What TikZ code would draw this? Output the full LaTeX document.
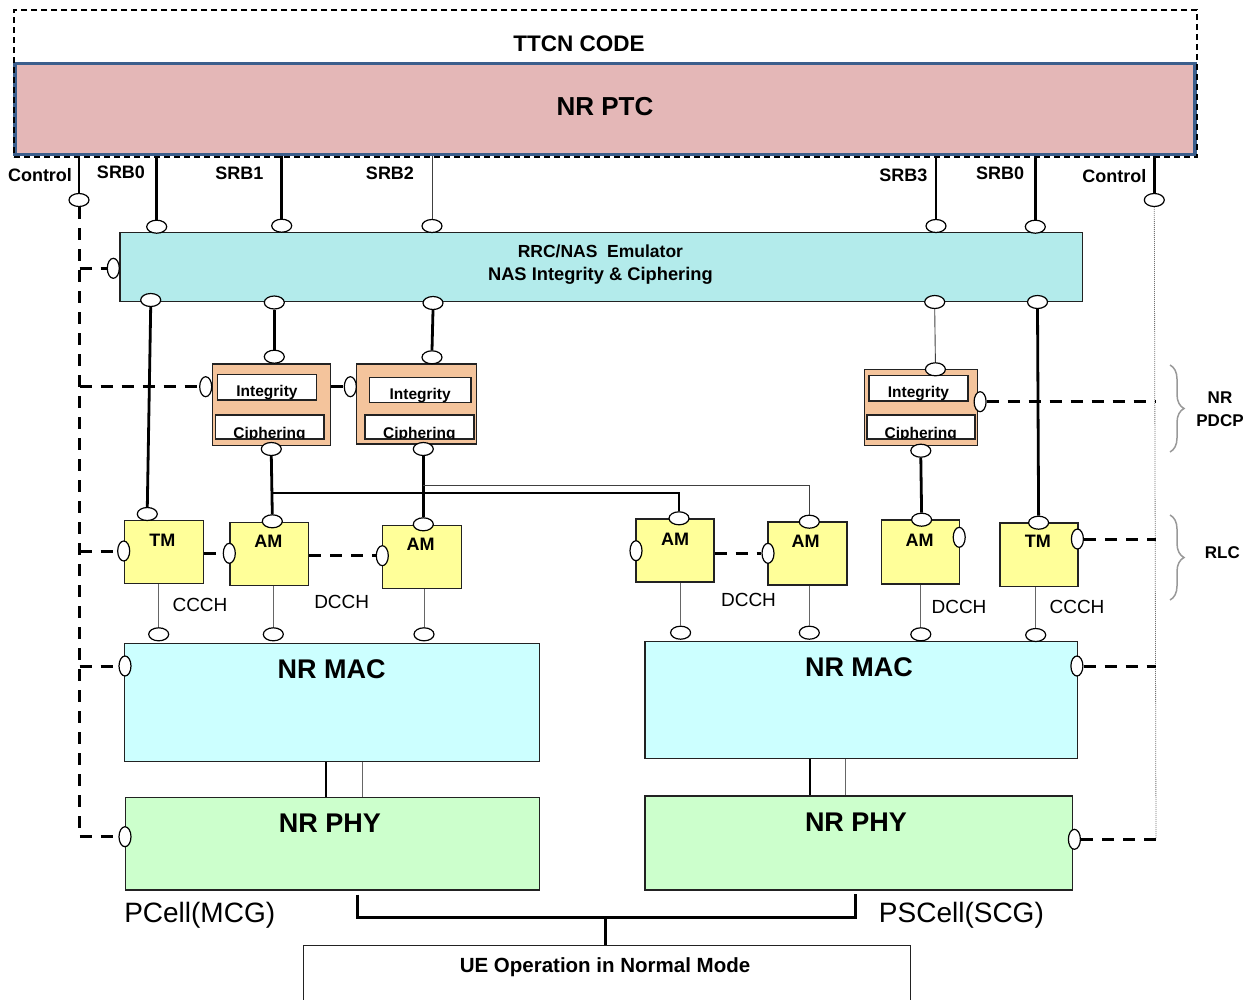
\documentclass[tikz,border=0pt]{standalone}
\usepackage{fontspec}
\setmainfont{Liberation Sans}
\usetikzlibrary{shapes.geometric,decorations.pathreplacing}
\definecolor{ptcfill}{HTML}{E4B7B7}
\definecolor{ptcline}{HTML}{3B5E8C}
\definecolor{emufill}{HTML}{B3EBEB}
\definecolor{pdcpfill}{HTML}{F4C49C}
\definecolor{rlcfill}{HTML}{FFFF99}
\definecolor{macfill}{HTML}{CCFFFF}
\definecolor{phyfill}{HTML}{CCFFCC}
\definecolor{bordercol}{HTML}{222222}
\newcommand{\myfs}[1]{\fontsize{#1}{#1}\selectfont}
\tikzset{
  box/.style={draw=bordercol, line width=1.3pt, rectangle, inner sep=0pt},
  inbox/.style={draw=bordercol, fill=white, line width=1.2pt, rectangle, inner sep=0pt},
  port/.style={ellipse, draw=black, fill=white, line width=1.2pt, minimum width=20pt, minimum height=13pt, inner sep=0pt},
  vport/.style={port, minimum width=12pt, minimum height=20pt},
  thickline/.style={line width=2.8pt},
  thinline/.style={line width=0.9pt, draw=black!75},
  chline/.style={line width=1pt, draw=black!60},
  ctrl/.style={line width=3pt, dash pattern=on 12pt off 9pt},
  dotline/.style={line width=0.8pt, draw=black!55, dash pattern=on 1pt off 1pt},
  lbl/.style={inner sep=0pt, font=\bfseries\myfs{18}},
  chlbl/.style={inner sep=0pt, font=\myfs{19}},
  rlclbl/.style={inner sep=0pt, font=\bfseries\myfs{18}},
  seclbl/.style={inner sep=0pt, font=\bfseries\myfs{17}},
  bigl/.style={inner sep=0pt, font=\bfseries\myfs{27}},
  celllbl/.style={inner sep=0pt, font=\myfs{28}},
  smalll/.style={inner sep=0pt, font=\bfseries\myfs{15.5}},
  bracestyle/.style={decorate, decoration={brace, amplitude=14pt, aspect=0.5}, draw=black!40, line width=1.5pt},
}
\begin{document}
\begin{tikzpicture}[x=1pt,y=-1pt]
\useasboundingbox (0,0) rectangle (1255,999);

% ---------- top: PTC and TTCN ----------
\node[box, draw=ptcline, line width=3.5pt, fill=ptcfill, minimum width=1180pt, minimum height=91pt] (ptc) at (605,109) {};
\node[inner sep=0pt, font=\bfseries\myfs{26}] (ptclbl) at (605,107) {NR PTC};
\node[draw=black, line width=1.2pt, dash pattern=on 6pt off 4pt, minimum width=1183pt, minimum height=147pt, inner sep=0pt, rectangle] (ttcn) at (605.5,83.5) {};
\node[inner sep=0pt, font=\bfseries\myfs{22.5}] (ttcnlbl) at (579,44) {TTCN CODE};

\node[lbl] (lc1) at (40,175.5) {Control};
\node[lbl] (ls0) at (121,172.3) {SRB0};
\node[lbl] (ls1) at (239.3,173.3) {SRB1};
\node[lbl] (ls2) at (390,173.3) {SRB2};
\node[lbl] (ls3) at (903.3,175) {SRB3};
\node[lbl] (ls0b) at (1000,173.3) {SRB0};
\node[lbl] (lc2) at (1114.3,175.7) {Control};

% ---------- emulator ----------
\node[box, fill=emufill, minimum width=962.7pt, minimum height=69.4pt] (emu) at (601.35,267) {};
\node[inner sep=0pt, font=\bfseries\myfs{17.5}] (emut1) at (600.4,251.7) {RRC/NAS\ \ Emulator};
\node[inner sep=0pt, font=\bfseries\myfs{18.3}] (emut2) at (600.4,276) {NAS Integrity \& Ciphering};

% ---------- PDCP ----------
\node[box, fill=pdcpfill, minimum width=118pt, minimum height=81.3pt] (pdcp1) at (271.7,404.65) {};
\node[inbox, minimum width=99.4pt, minimum height=25.7pt] (int1) at (267,387.15) {};
\node[inbox, minimum width=107.6pt, minimum height=23.7pt] (cip1) at (269.5,427.15) {};
\node[box, fill=pdcpfill, minimum width=120pt, minimum height=80pt] (pdcp2) at (416.7,404) {};
\node[inbox, minimum width=101.7pt, minimum height=25.4pt] (int2) at (420.15,390) {};
\node[inbox, minimum width=108.7pt, minimum height=23.7pt] (cip2) at (419.35,427.15) {};
\node[box, fill=pdcpfill, minimum width=113.4pt, minimum height=76pt] (pdcp3) at (921.1,407.3) {};
\node[inbox, minimum width=99pt, minimum height=25.3pt] (int3) at (918.5,388.35) {};
\node[inbox, minimum width=107.5pt, minimum height=23.7pt] (cip3) at (920.75,427.15) {};

\node[smalll, anchor=base, yshift=4pt] (int1t) at (int1.south) {Integrity};
\node[smalll, anchor=base, yshift=4pt] (int2t) at (int2.south) {Integrity};
\node[smalll, anchor=base, yshift=4pt] (int3t) at (int3.south) {Integrity};
\begin{scope}
\clip (cip1.south west) rectangle (cip1.north east);
\node[smalll, anchor=base, yshift=1.5pt] (cip1t) at (cip1.south) {Ciphering};
\end{scope}
\begin{scope}
\clip (cip2.south west) rectangle (cip2.north east);
\node[smalll, anchor=base, yshift=1.5pt] (cip2t) at (cip2.south) {Ciphering};
\end{scope}
\begin{scope}
\clip (cip3.south west) rectangle (cip3.north east);
\node[smalll, anchor=base, yshift=1.5pt] (cip3t) at (cip3.south) {Ciphering};
\end{scope}
\draw[draw=bordercol, line width=1.2pt] (cip1.south west) rectangle (cip1.north east);
\draw[draw=bordercol, line width=1.2pt] (cip2.south west) rectangle (cip2.north east);
\draw[draw=bordercol, line width=1.2pt] (cip3.south west) rectangle (cip3.north east);

% ---------- RLC ----------
\node[box, fill=rlcfill, minimum width=79pt, minimum height=63pt] (tm1) at (163.8,552.2) {};
\node[box, fill=rlcfill, minimum width=78.7pt, minimum height=63pt] (am1) at (269.35,553.8) {};
\node[box, fill=rlcfill, minimum width=79pt, minimum height=63pt] (am2) at (421.8,557.2) {};
\node[box, fill=rlcfill, minimum width=78pt, minimum height=63pt] (am3) at (675,550.5) {};
\node[box, fill=rlcfill, minimum width=79pt, minimum height=63pt] (am4) at (807.5,553.5) {};
\node[box, fill=rlcfill, minimum width=78.2pt, minimum height=64pt] (am5) at (920.7,552) {};
\node[box, fill=rlcfill, minimum width=78pt, minimum height=63.7pt] (tm2) at (1039,554.85) {};
\node[rlclbl] (tm1t0) at (162.3,540) {TM};
\node[rlclbl] (am1t0) at (268.3,541) {AM};
\node[rlclbl] (am2t0) at (420.7,544) {AM};
\node[rlclbl] (am3t0) at (675,539.3) {AM};
\node[rlclbl] (am4t0) at (805.5,541.7) {AM};
\node[rlclbl] (am5t0) at (919.5,540) {AM};
\node[rlclbl] (tm2t0) at (1037.8,541.7) {TM};

% ---------- MAC / PHY ----------
\node[box, fill=macfill, minimum width=415.2pt, minimum height=118.4pt] (macL) at (331.9,702.5) {};
\node[box, fill=macfill, minimum width=432.6pt, minimum height=116.6pt] (macR) at (861.4,700) {};
\node[box, fill=phyfill, minimum width=413.7pt, minimum height=92.3pt] (phyL) at (332.65,843.85) {};
\node[box, fill=phyfill, minimum width=427.8pt, minimum height=94pt] (phyR) at (858.9,843) {};
\node[bigl] (macLt) at (331.7,669.3) {NR MAC};
\node[bigl] (macRt) at (859,666.7) {NR MAC};
\node[bigl] (phyLt) at (329.8,822.7) {NR PHY};
\node[bigl] (phyRt) at (856,821.7) {NR PHY};
\node[celllbl] (pcell) at (199.7,915) {PCell(MCG)};
\node[celllbl] (pscell) at (961.4,915) {PSCell(SCG)};

% ---------- UE ----------
\node[box, minimum width=607pt, minimum height=70pt, anchor=north] (ue) at (607.3,945) {};
\node[inner sep=0pt, font=\bfseries\myfs{20.5}] (uet) at (605,967) {UE Operation in Normal Mode};

% ---------- channel labels ----------
\node[chlbl] (lccch1) at (200,605) {CCCH};
\node[chlbl] (ldcch1) at (341.7,601.7) {DCCH};
\node[chlbl] (ldcch2) at (748.5,600) {DCCH};
\node[chlbl] (ldcch3) at (959,606.7) {DCCH};
\node[chlbl] (lccch2) at (1077,606.7) {CCCH};

% ---------- side braces ----------
\draw[bracestyle] (1170,365) -- (1170,452);
\draw[bracestyle] (1170,515) -- (1170,600);
\node[seclbl] (lnr) at (1220,398) {NR};
\node[seclbl] (lpdcp) at (1220,421) {PDCP};
\node[seclbl] (lrlc) at (1222.4,553) {RLC};

% ---------- ports ----------
\node[port] (ctlL) at (79,200) {};
\node[port] (ctlR) at (1154.3,200) {};
\node[port] (s0) at (156.7,226.7) {};
\node[port] (s1) at (281.7,225.7) {};
\node[port] (s2) at (432,226) {};
\node[port] (s3) at (936,226) {};
\node[port] (s0b) at (1035.3,226.7) {};
\node[vport] (emuL) at (113.3,268.3) {};
\node[port] (e1) at (150.7,300) {};
\node[port] (e2) at (274.3,302.5) {};
\node[port] (e3) at (433,303) {};
\node[port] (e4) at (934.7,302) {};
\node[port] (e5) at (1037.5,302) {};
\node[port] (p1t) at (274.3,356.7) {};
\node[port] (p2t) at (432,357.3) {};
\node[port] (p3t) at (935.4,369.3) {};
\node[port] (p1b) at (271.3,449) {};
\node[port] (p2b) at (423.3,449) {};
\node[port] (p3b) at (920.8,450.7) {};
\node[vport] (p1l) at (205.7,386.7) {};
\node[vport] (p2l) at (350.3,386.7) {};
\node[vport] (p3r) at (980.1,401.7) {};
\node[port] (tm1t) at (147.3,514) {};
\node[port] (am1t) at (272.3,521.3) {};
\node[port] (am2t) at (423.3,524.3) {};
\node[port] (am3t) at (679,518.3) {};
\node[port] (am4t) at (809.3,521.7) {};
\node[port] (am5t) at (921.6,519.7) {};
\node[port] (tm2t) at (1038.6,522.7) {};
\node[vport] (tm1l) at (123.7,551) {};
\node[vport] (am1l) at (229.3,553.3) {};
\node[vport] (am2l) at (382.3,555.7) {};
\node[vport] (am3l) at (636,550.7) {};
\node[vport] (am4l) at (768,553.3) {};
\node[vport] (am5r) at (959.2,537.3) {};
\node[vport] (tm2r) at (1077.4,539) {};
\node[port] (ch1) at (158.7,634.3) {};
\node[port] (ch2) at (273.3,634.3) {};
\node[port] (ch3) at (424,634.3) {};
\node[port] (ch4) at (680.6,632.7) {};
\node[port] (ch5) at (809.3,632.7) {};
\node[port] (ch6) at (920.8,634.3) {};
\node[port] (ch7) at (1035.7,635) {};
\node[vport] (macLp) at (125,666) {};
\node[vport] (macRp) at (1076.9,666) {};
\node[vport] (phyLp) at (125,836.7) {};
\node[vport] (phyRp) at (1074.4,839.3) {};

% ---------- connectors ----------
\coordinate (cl) at (79.5,0);
\coordinate (cr) at (1156,0);
\draw[thickline] (ptc.south -| ctlL) -- (ctlL.north);
\draw[thickline] (ptc.south -| ctlR) -- (ctlR.north);
\draw[thickline] (ptc.south -| s0) -- (s0.north);
\draw[thickline] (ptc.south -| s1) -- (s1.north);
\draw[thinline] (ptc.south -| s2) -- (s2.north);
\draw[thickline] (ptc.south -| s3) -- (s3.north);
\draw[thickline] (ptc.south -| s0b) -- (s0b.north);

\draw[ctrl] (cl |- ctlL.south) -- (cl |- phyLp) -- (phyLp.west);
\draw[ctrl] (cl |- emuL) -- (emuL.west);
\draw[ctrl] (cl |- p1l) -- (p1l.west);
\draw[ctrl] (cl |- tm1l) -- (tm1l.west);
\draw[ctrl] (cl |- macLp) -- (macLp.west);

\draw[dotline] (ctlR.south) -- (cr |- phyRp);
\draw[ctrl] (p3r.east) -- (cr |- p3r);
\draw[ctrl] (tm2r.east) -- (cr |- tm2r);
\draw[ctrl] (macRp.east) -- (cr |- macRp);
\draw[ctrl] (phyRp.east) -- (cr |- phyRp);

\draw[thickline] (e1.south) -- (tm1t.north);
\draw[thickline] (e2.south) -- (p1t.north);
\draw[thickline] (e3.south) -- (p2t.north);
\draw[thinline] (e4.south) -- (p3t.north);
\draw[thickline] (e5.south) -- (tm2t.north);

\draw[thickline] (p1b.south) -- (am1t.north);
\coordinate (j1) at (272.8,493);
\draw[thickline] (j1) -| (am3t.north);
\draw[thickline] (p2b.south) -- (am2t.north);
\coordinate (j2) at (423.3,485.5);
\draw[thinline] (j2) -| (am4t.north);
\draw[thickline] (p3b.south) -- (am5t.north);

\draw[ctrl] (pdcp1.east |- p2l) -- (p2l.west);
\draw[ctrl] (tm1.east |- am1l) -- (am1l.west);
\draw[ctrl] (am1.east |- am2l) -- (am2l.west);
\draw[ctrl] (am3.east |- am4l) -- (am4l.west);

\draw[chline] (tm1.south -| ch1) -- (ch1.north);
\draw[chline] (am1.south -| ch2) -- (ch2.north);
\draw[chline] (am2.south -| ch3) -- (ch3.north);
\draw[chline] (am3.south -| ch4) -- (ch4.north);
\draw[chline] (am4.south -| ch5) -- (ch5.north);
\draw[chline] (am5.south -| ch6) -- (ch6.north);
\draw[chline] (tm2.south -| ch7) -- (ch7.north);

\coordinate (m1) at (326,0);
\coordinate (m2) at (362.3,0);
\coordinate (m3) at (810,0);
\coordinate (m4) at (845.6,0);
\draw[thickline] (macL.south -| m1) -- (phyL.north -| m1);
\draw[chline] (macL.south -| m2) -- (phyL.north -| m2);
\draw[thickline] (macR.south -| m3) -- (phyR.north -| m3);
\draw[chline] (macR.south -| m4) -- (phyR.north -| m4);

\coordinate (bl) at (357.7,917.5);
\coordinate (br) at (855.5,917.5);
\coordinate (bm) at (605.4,917.5);
\draw[thickline] ([yshift=-4pt]phyL.south -| bl) -- (bl) -- (br) -- ([yshift=-3pt]phyR.south -| br);
\draw[thickline] (bm) -- (ue.north -| bm);
\end{tikzpicture}
\end{document}
